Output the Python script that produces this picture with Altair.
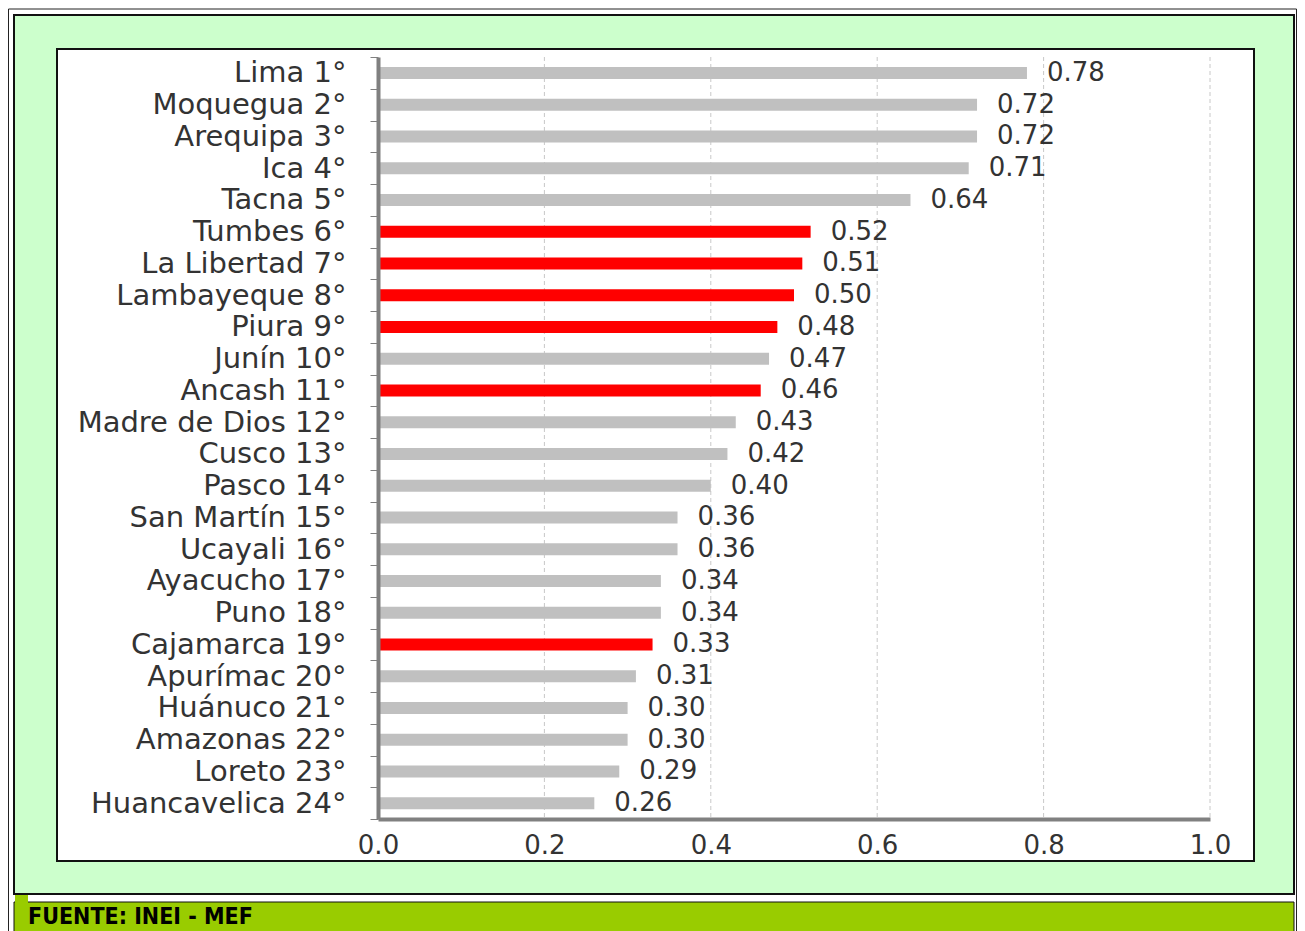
import altair as alt
import pandas as pd

regions = ["Lima 1°", "Moquegua 2°", "Arequipa 3°", "Ica 4°", "Tacna 5°", "Tumbes 6°",
           "La Libertad 7°", "Lambayeque 8°", "Piura 9°", "Junín 10°", "Ancash 11°",
           "Madre de Dios 12°", "Cusco 13°", "Pasco 14°", "San Martín 15°", "Ucayali 16°",
           "Ayacucho 17°", "Puno 18°", "Cajamarca 19°", "Apurímac 20°", "Huánuco 21°",
           "Amazonas 22°", "Loreto 23°", "Huancavelica 24°"]
values = [0.78, 0.72, 0.72, 0.71, 0.64, 0.52, 0.51, 0.50, 0.48, 0.47, 0.46, 0.43,
          0.42, 0.40, 0.36, 0.36, 0.34, 0.34, 0.33, 0.31, 0.30, 0.30, 0.29, 0.26]
highlighted = ["Tumbes 6°", "La Libertad 7°", "Lambayeque 8°", "Piura 9°",
               "Ancash 11°", "Cajamarca 19°"]
grid_ticks = [0.2, 0.4, 0.6, 0.8, 1.0]
x_ticks = [0.0, 0.2, 0.4, 0.6, 0.8, 1.0]
source_text = "FUENTE: INEI - MEF"

df = pd.DataFrame({
    "region": regions,
    "value": values,
    "grupo": ["rojo" if r in highlighted else "gris" for r in regions],
})
grid_df = pd.DataFrame({"value": grid_ticks})
one = pd.DataFrame({"a": [0]})

W, H = 832, 762
FONT = "DejaVu Sans"

xscale = alt.Scale(domain=[0, 1], nice=False)
yscale = alt.Scale(paddingInner=0, paddingOuter=0)
x_axis = alt.Axis(zindex=1, values=x_ticks, format=".1f", grid=False, ticks=False,
                  domainColor="#808080", domainWidth=4, labelFlush=False,
                  labelFont=FONT, labelFontSize=26, labelColor="#333333",
                  labelPadding=13, title=None)

# decorative frames
outer_line = alt.Chart(one).mark_rect(fill="white", stroke="#222222", strokeWidth=1).encode(
    x=alt.value(-369.5), x2=alt.value(918.5), y=alt.value(-48), y2=alt.value(890))
green_box = alt.Chart(one).mark_rect(fill="#ccffcc", stroke="#111111", strokeWidth=2).encode(
    x=alt.value(-364), x2=alt.value(916), y=alt.value(-42), y2=alt.value(837))
white_panel = alt.Chart(one).mark_rect(fill="white", stroke="#111111", strokeWidth=2).encode(
    x=alt.value(-321), x2=alt.value(876), y=alt.value(-8), y2=alt.value(804))
footer = alt.Chart(one).mark_rect(fill="#99cc00", stroke="#111111", strokeWidth=1).encode(
    x=alt.value(-364), x2=alt.value(916), y=alt.value(845), y2=alt.value(885))
footer_block = alt.Chart(one).mark_rect(fill="#99cc00").encode(
    x=alt.value(-363), x2=alt.value(-350), y=alt.value(838), y2=alt.value(870))
footer_text = alt.Chart(one).mark_text(
    align="left", baseline="alphabetic", font="Liberation Sans Narrow, DejaVu Sans Condensed, sans-serif",
    fontWeight="bold", fontSize=23, color="#000000"
).encode(x=alt.value(-350), y=alt.value(867), text=alt.value(source_text))

grid = alt.Chart(grid_df).mark_rule(color="#c8c8c8", strokeDash=[4, 3], strokeWidth=1).encode(
    x=alt.X("value:Q", scale=xscale, axis=x_axis),
    y=alt.value(0), y2=alt.value(H))

y_axis = alt.Axis(zindex=1, domainColor="#808080", domainWidth=4,
                  tickBand="extent", tickColor="#808080", tickSize=8, tickWidth=1,
                  labelFont=FONT, labelFontSize=29, labelColor="#333333",
                  labelPadding=24, labelLimit=400, title=None)

bars = alt.Chart(df).mark_bar(size=12).encode(
    x=alt.X("value:Q", scale=xscale, axis=x_axis),
    y=alt.Y("region:N", sort=regions, scale=yscale, axis=y_axis),
    color=alt.Color("grupo:N", scale=alt.Scale(domain=["gris", "rojo"],
                                               range=["#c0c0c0", "#ff0000"]), legend=None),
)

labels = alt.Chart(df).mark_text(align="left", baseline="middle", dx=20, font=FONT,
                                 fontSize=26, color="#333333").encode(
    x=alt.X("value:Q", scale=xscale, axis=x_axis),
    y=alt.Y("region:N", sort=regions, scale=yscale, axis=y_axis),
    text=alt.Text("value:Q", format=".2f"),
)

chart = alt.layer(outer_line, green_box, white_panel, footer, footer_block, footer_text,
                  grid, bars, labels).properties(
    width=W, height=H,
    autosize=alt.AutoSizeParams(type="none"),
    padding={"left": 370, "top": 49, "right": 87, "bottom": 112},
    background="white",
).configure_view(strokeWidth=0)

chart.save("out.html", embed_options={"renderer": "svg", "actions": False})
